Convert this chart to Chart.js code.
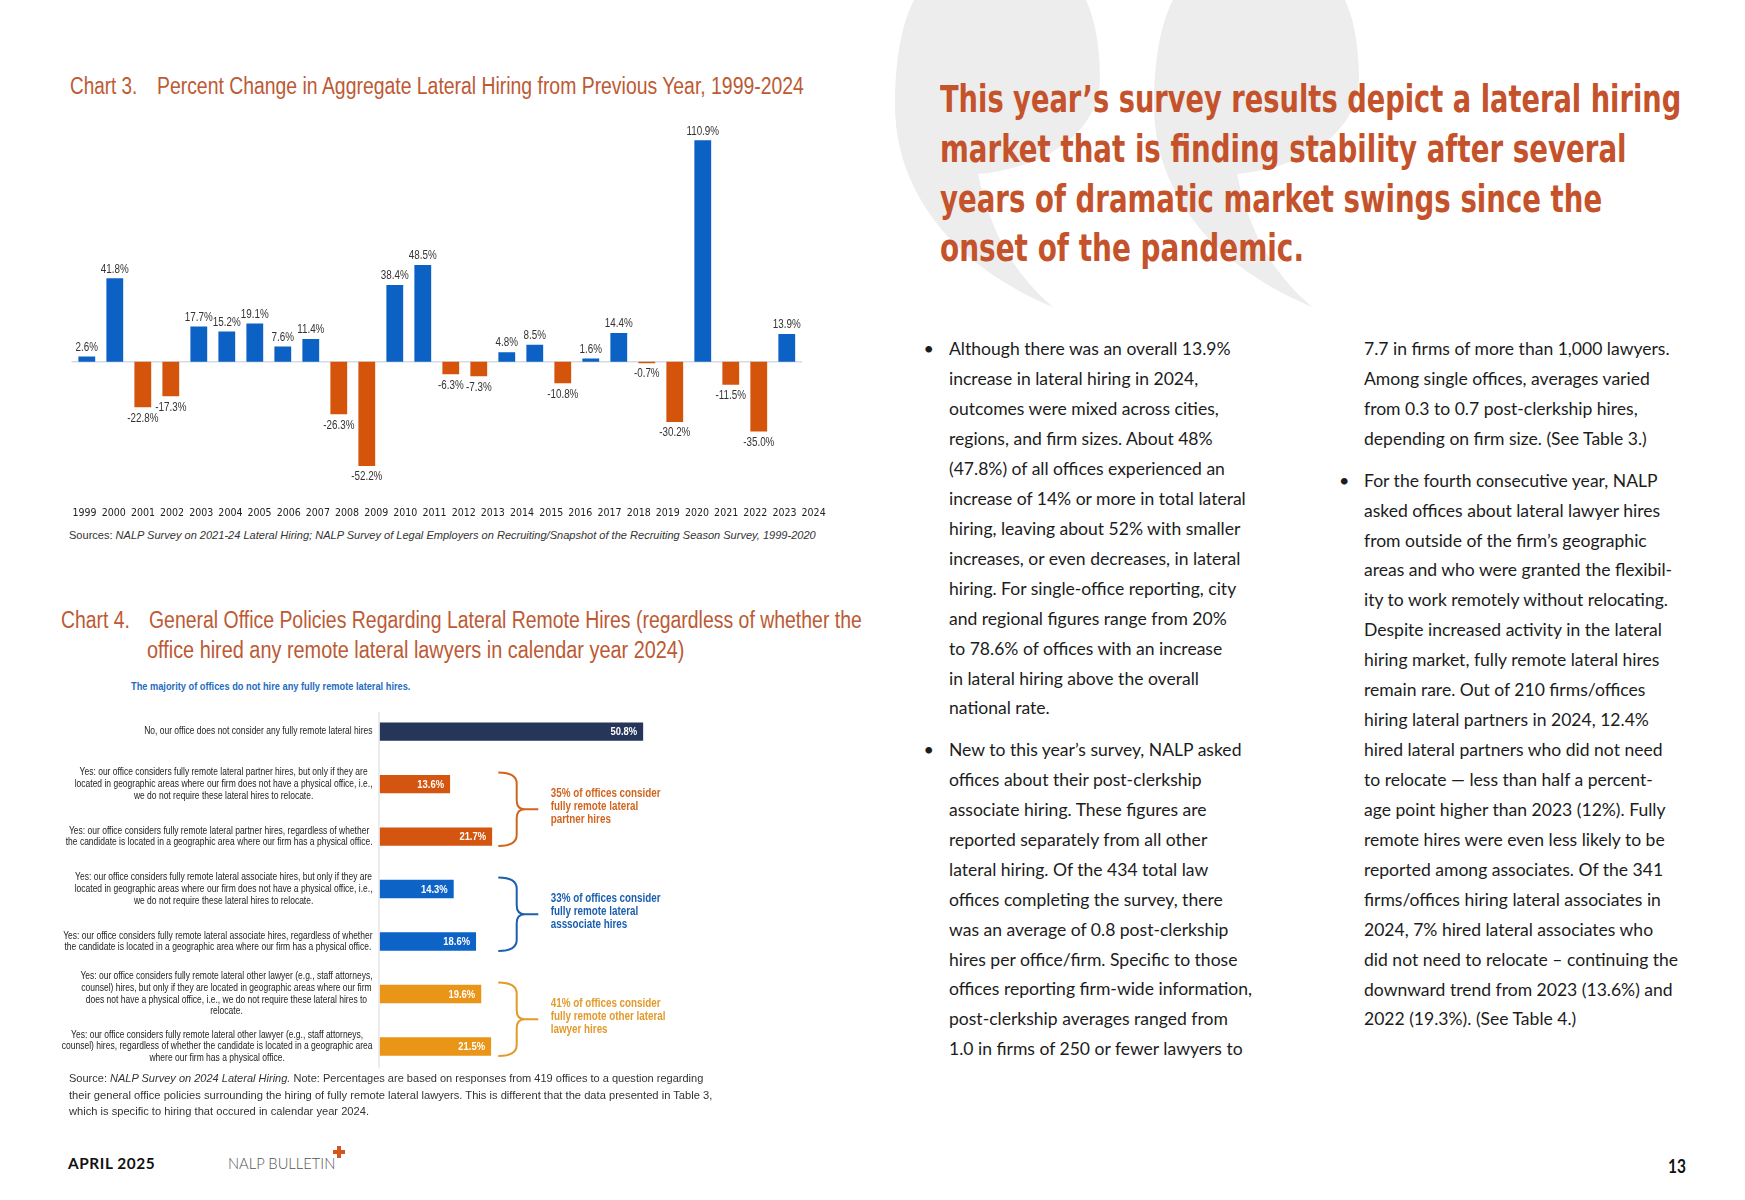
<!DOCTYPE html>
<html><head><meta charset="utf-8">
<script src="https://cdn.jsdelivr.net/npm/chart.js@4.4.1/dist/chart.umd.min.js"></script>
<style>
html,body{margin:0;padding:0;background:#fff;}
body{width:1745px;height:1200px;position:relative;overflow:hidden;font-family:Lato,"Open Sans",sans-serif;color:#1c1c1c;}
.abs{position:absolute;white-space:nowrap;}
.narrow{font-family:"Liberation Sans",Arial,sans-serif;}
.cond{font-family:"DejaVu Sans Condensed","DejaVu Sans",sans-serif;}
[data-w],[data-g]{transform-origin:0 50%;}
.title{color:#BC5A34;font-size:23.5px;line-height:26px;height:26px;}
.body{font-size:18px;line-height:24px;height:24px;color:#1c1c1c;}
.head{color:#C4532B;font-weight:bold;font-size:37px;line-height:44px;height:44px;}
canvas{position:absolute;}
</style>
</head>
<body>
<svg class="abs" style="left:0;top:0" width="1745" height="400">
  <path fill="#EDEDED" d="M 914 0 C 901 25 895 62 895 105 C 895 185 945 262 1053 307 C 1012 272 990 230 978 174 C 1045 168 1099 132 1100 80 C 1100 45 1095 20 1086 0 Z"/>
  <path fill="#EDEDED" transform="translate(259,0)" d="M 914 0 C 901 25 895 62 895 105 C 895 185 945 262 1053 307 C 1012 272 990 230 978 174 C 1045 168 1099 132 1100 80 C 1100 45 1095 20 1086 0 Z"/>
</svg>

<!-- Chart 3 -->
<div class="abs narrow title" style="left:70px;top:73px" data-w="67.3">Chart 3.</div>
<div class="abs narrow title" style="left:156.7px;top:73px" data-w="646.8">Percent Change in Aggregate Lateral Hiring from Previous Year, 1999-2024</div>
<canvas id="c3" width="850" height="424" style="left:0;top:100px;width:850px;height:424px"></canvas>
<div class="abs narrow" style="left:69px;top:528.3px;font-size:11.5px;line-height:14px;color:#333" data-w="746.7">Sources: <i>NALP Survey on 2021-24 Lateral Hiring; NALP Survey of Legal Employers on Recruiting/Snapshot of the Recruiting Season Survey, 1999-2020</i></div>

<!-- Chart 4 -->
<div class="abs narrow title" style="left:61.2px;top:606.9px" data-w="69">Chart 4.</div>
<div class="abs narrow title" style="left:148.6px;top:606.9px" data-w="712.8">General Office Policies Regarding Lateral Remote Hires (regardless of whether the</div>
<div class="abs narrow title" style="left:146.9px;top:636.9px" data-w="537.5">office hired any remote lateral lawyers in calendar year 2024)</div>
<div class="abs narrow" style="left:131.3px;top:680px;font-size:11px;line-height:13px;font-weight:bold;color:#1F6DBF" data-w="279.4">The majority of offices do not hire any fully remote lateral hires.</div>
<canvas id="c4" width="900" height="373" style="left:0;top:700px;width:900px;height:373px"></canvas>
<div class="abs narrow" style="left:69px;top:1071.4px;font-size:11.5px;line-height:14px;color:#333" data-w="634.3">Source: <i>NALP Survey on 2024 Lateral Hiring.</i> Note: Percentages are based on responses from 419 offices to a question regarding</div>
<div class="abs narrow" style="left:69px;top:1088.1px;font-size:11.5px;line-height:14px;color:#333" data-w="643.3">their general office policies surrounding the hiring of fully remote lateral lawyers. This is different that the data presented in Table 3,</div>
<div class="abs narrow" style="left:69px;top:1103.7px;font-size:11.5px;line-height:14px;color:#333" data-w="300">which is specific to hiring that occured in calendar year 2024.</div>

<!-- footer -->
<div class="abs" style="left:68.3px;top:1152.7px;font-size:16px;line-height:20px;font-weight:bold;color:#111;letter-spacing:0.6px" data-w="87.3">APRIL 2025</div>
<div class="abs" style="left:227.7px;top:1152.7px;font-size:15px;line-height:20px;font-weight:300;color:#555" data-w="107.3">NALP BULLETIN</div>
<div class="abs" style="left:337px;top:1145.5px;width:4px;height:12px;background:#D2561E"></div>
<div class="abs" style="left:333px;top:1149.5px;width:12px;height:4px;background:#D2561E"></div>
<div class="abs" style="left:1668px;top:1155px;font-size:19px;line-height:22px;font-weight:bold;color:#111" data-w="18">13</div>

<div id="textlayer"></div>

<script>
// ---------- data ----------
const years = ['1999','2000','2001','2002','2003','2004','2005','2006','2007','2008','2009','2010','2011','2012','2013','2014','2015','2016','2017','2018','2019','2020','2021','2022','2023','2024'];
const pctChange = [2.6,41.8,-22.8,-17.3,17.7,15.2,19.1,7.6,11.4,-26.3,-52.2,38.4,48.5,-6.3,-7.3,4.8,8.5,-10.8,1.6,14.4,-0.7,-30.2,110.9,-11.5,-35.0,13.9];

const policyLabels = [
  ['No, our office does not consider any fully remote lateral hires'],
  ['Yes: our office considers fully remote lateral partner hires, but only if they are','located in geographic areas where our firm does not have a physical office, i.e.,','we do not require these lateral hires to relocate.'],
  ['Yes: our office considers fully remote lateral partner hires, regardless of whether','the candidate is located in a geographic area where our firm has a physical office.'],
  ['Yes: our office considers fully remote lateral associate hires, but only if they are','located in geographic areas where our firm does not have a physical office, i.e.,','we do not require these lateral hires to relocate.'],
  ['Yes: our office considers fully remote lateral associate hires, regardless of whether','the candidate is located in a geographic area where our firm has a physical office.'],
  ['Yes: our office considers fully remote lateral other lawyer (e.g., staff attorneys,','counsel) hires, but only if they are located in geographic areas where our firm','does not have a physical office, i.e., we do not require these lateral hires to','relocate.'],
  ['Yes: our office considers fully remote lateral other lawyer (e.g., staff attorneys,','counsel) hires, regardless of whether the candidate is located in a geographic area','where our firm has a physical office.']
];
const policyValues = [50.8,13.6,21.7,14.3,18.6,19.6,21.5];
const groupRanges = [[1,2],[3,4],[5,6]];
const groupNotes = [
  ['35% of offices consider','fully remote lateral','partner hires'],
  ['33% of offices consider','fully remote lateral','asssociate hires'],
  ['41% of offices consider','fully remote other lateral','lawyer hires']
];

// ---------- body text ----------
const col1a = ['Although there was an overall 13.9%','increase in lateral hiring in 2024,','outcomes were mixed across cities,','regions, and firm sizes. About 48%','(47.8%) of all offices experienced an','increase of 14% or more in total lateral','hiring, leaving about 52% with smaller','increases, or even decreases, in lateral','hiring. For single-office reporting, city','and regional figures range from 20%','to 78.6% of offices with an increase','in lateral hiring above the overall','national rate.'];
const col1b = ['New to this year\u2019s survey, NALP asked','offices about their post-clerkship','associate hiring. These figures are','reported separately from all other','lateral hiring. Of the 434 total law','offices completing the survey, there','was an average of 0.8 post-clerkship','hires per office/firm. Specific to those','offices reporting firm-wide information,','post-clerkship averages ranged from','1.0 in firms of 250 or fewer lawyers to'];
const col2a = ['7.7 in firms of more than 1,000 lawyers.','Among single offices, averages varied','from 0.3 to 0.7 post-clerkship hires,','depending on firm size. (See Table 3.)'];
const col2b = ['For the fourth consecutive year, NALP','asked offices about lateral lawyer hires','from outside of the firm\u2019s geographic','areas and who were granted the flexibil-','ity to work remotely without relocating.','Despite increased activity in the lateral','hiring market, fully remote lateral hires','remain rare. Out of 210 firms/offices','hiring lateral partners in 2024, 12.4%','hired lateral partners who did not need','to relocate \u2014 less than half a percent-','age point higher than 2023 (12%). Fully','remote hires were even less likely to be','reported among associates. Of the 341','firms/offices hiring lateral associates in','2024, 7% hired lateral associates who','did not need to relocate \u2013 continuing the','downward trend from 2023 (13.6%) and','2022 (19.3%). (See Table 4.)'];
const headline = ['This year\u2019s survey results depict a lateral hiring','market that is finding stability after several','years of dramatic market swings since the','onset of the pandemic.'];
const headW = [741.2, 686.6, 662.2, 364];

const layer = document.getElementById('textlayer');
function addDiv(cls, text, left, cy, h, attrs){
  const d = document.createElement('div');
  d.className = 'abs ' + cls;
  d.style.left = left + 'px';
  d.style.top = (cy - h/2) + 'px';
  d.textContent = text;
  for (const k in (attrs||{})) d.setAttribute(k, attrs[k]);
  layer.appendChild(d);
  return d;
}
headline.forEach((t,i)=>addDiv('cond head', t, 940.4, [100.2,150.2,200.3,249.3][i], 44, {'data-w': headW[i]}));
const LH = 29.93;
function para(lines, left, cy0, bulletX){
  lines.forEach((t,i)=>{
    const attrs = (t === col1a[0]) ? {'data-w':281.6,'data-g':'body'} : {'data-g':'body'};
    addDiv('body', t, left, cy0 + i*LH, 24, attrs);
  });
  if (bulletX) addDiv('body', '\u2022', bulletX, cy0, 24, {});
}
para(col1a, 949.3, 348.3, 923.5);
para(col1b, 949.3, 749.0, 923.5);
para(col2a, 1364.4, 348.3, null);
para(col2b, 1364.4, 479.7, 1339);

function fitAll(){
  const gs = {};
  document.querySelectorAll('[data-w]').forEach(el=>{
    const s = parseFloat(el.dataset.w) / el.getBoundingClientRect().width;
    el.style.transform = 'scaleX(' + s + ')';
    if (el.dataset.g) gs[el.dataset.g] = s;
  });
  document.querySelectorAll('[data-g]').forEach(el=>{
    if (!el.dataset.w && gs[el.dataset.g]) el.style.transform = 'scaleX(' + gs[el.dataset.g] + ')';
  });
}
fitAll();

// ---------- helpers ----------
const SANS = '"Liberation Sans",Arial,sans-serif';
const SQ = 0.82; // horizontal squeeze to emulate a narrow face
function narrowText(ctx, text, x, y, align){
  const w = ctx.measureText(text).width * SQ;
  let x0 = x;
  if (align === 'center') x0 = x - w/2;
  else if (align === 'right') x0 = x - w;
  ctx.save();
  ctx.translate(x0, y);
  ctx.scale(SQ, 1);
  ctx.textAlign = 'left';
  ctx.fillText(text, 0, 0);
  ctx.restore();
}

// ---------- Chart 3 ----------
const BLUE3 = '#0B61C4', ORANGE3 = '#D4540C';

const zeroLine = {
  id:'zeroLine',
  beforeDatasetsDraw(chart){
    const {ctx, scales:{xb, y}} = chart;
    const yy = y.getPixelForValue(0);
    ctx.save();
    ctx.strokeStyle = '#D6DCE4';
    ctx.lineWidth = 1.5;
    ctx.beginPath();
    ctx.moveTo(xb.getPixelForValue(-0.55), yy);
    ctx.lineTo(xb.getPixelForValue(25.55), yy);
    ctx.stroke();
    ctx.restore();
  }
};
const valueLabels3 = {
  id:'valueLabels3',
  afterDatasetsDraw(chart){
    const {ctx} = chart;
    const meta = chart.getDatasetMeta(0);
    ctx.save();
    ctx.font = '12px ' + SANS;
    ctx.fillStyle = '#333';
    meta.data.forEach((el,i)=>{
      const v = pctChange[i];
      const t = v.toFixed(1) + '%';
      if (v >= 0){ ctx.textBaseline = 'bottom'; narrowText(ctx, t, el.x, el.y - 3, 'center'); }
      else { ctx.textBaseline = 'top'; narrowText(ctx, t, el.x, el.y + 5, 'center'); }
    });
    ctx.restore();
  }
};

new Chart(document.getElementById('c3'), {
  type:'bar',
  data:{
    labels: years,
    datasets:[{
      data: pctChange.map((v,i)=>({x:i, y:v})),
      xAxisID:'xb', yAxisID:'y',
      backgroundColor: pctChange.map(v => v >= 0 ? BLUE3 : ORANGE3),
      categoryPercentage:1, barPercentage:0.6, borderWidth:0
    }]
  },
  options:{
    responsive:false, animation:false, devicePixelRatio:1,
    layout:{padding:{left:70, right:21.8, top:12.15, bottom:0.7}},
    plugins:{legend:{display:false}, tooltip:{enabled:false}},
    scales:{
      xb:{type:'linear', display:false, offset:false, min:-0.6, max:26.48, grid:{offset:false}},
      x:{type:'category', labels: years, position:'bottom', offset:true,
         grid:{display:false, drawTicks:false}, border:{display:false},
         ticks:{autoSkip:false, maxRotation:0, minRotation:0, padding:4, color:'#222', font:{family:'"DejaVu Sans Condensed","Liberation Sans",sans-serif', size:10.5}}},
      y:{display:false, min:-70.6, max:125}
    }
  },
  plugins:[zeroLine, valueLabels3]
});

// ---------- Chart 4 ----------
const barColors4 = ['#26355A','#D4550F','#D4550F','#0D63C6','#0D63C6','#E99518','#E99518'];
const groupColors = ['#D0651F','#1A5FAF','#E39A2D'];

const policyDecor = {
  id:'policyDecor',
  afterDatasetsDraw(chart){
    const {ctx, chartArea, scales:{x, y}} = chart;
    const meta = chart.getDatasetMeta(0);
    ctx.save();
    // axis line
    ctx.strokeStyle = '#D9D9D9'; ctx.lineWidth = 1;
    ctx.beginPath();
    ctx.moveTo(x.getPixelForValue(0) - 0.5, chartArea.top + 6.6);
    ctx.lineTo(x.getPixelForValue(0) - 0.5, chartArea.bottom - 4.3);
    ctx.stroke();
    // category labels: lines centred within a right-aligned block
    ctx.font = '10px ' + SANS;
    const ref = ctx.measureText('Yes: our office considers fully remote lateral associate hires, regardless of whether').width * SQ;
    const fs = 10 * 309.4 / ref;
    ctx.font = fs + 'px ' + SANS;
    ctx.fillStyle = '#222'; ctx.textBaseline = 'middle';
    const right = x.getPixelForValue(0) - 7;
    const lh = 11.7;
    policyLabels.forEach((lines,i)=>{
      const bw = Math.max(...lines.map(l => ctx.measureText(l).width * SQ));
      const cx = right - bw/2;
      const yc = y.getPixelForValue(i);
      lines.forEach((l,k)=> narrowText(ctx, l, cx, yc - (lines.length-1)*lh/2 + k*lh, 'center'));
    });
    // values inside bars
    ctx.font = 'bold 11.5px ' + SANS;
    ctx.fillStyle = '#fff';
    meta.data.forEach((el,i)=> narrowText(ctx, policyValues[i].toFixed(1) + '%', el.x - 6, el.y + 0.5, 'right'));
    // braces and notes
    groupRanges.forEach((r,g)=>{
      const yTop = y.getPixelForValue(r[0]) - 11.5;
      const yBot = y.getPixelForValue(r[1]) + 9.5;
      const yMid = (yTop + yBot)/2;
      const xL = 498.3, xS = 516.7, xP = 538.3;
      ctx.strokeStyle = groupColors[g]; ctx.lineWidth = 2;
      ctx.beginPath();
      ctx.moveTo(xL, yTop);
      ctx.quadraticCurveTo(xS, yTop, xS, yTop + 11);
      ctx.lineTo(xS, yMid - 9);
      ctx.quadraticCurveTo(xS, yMid, xS + 8, yMid);
      ctx.lineTo(xP, yMid);
      ctx.moveTo(xS + 8, yMid);
      ctx.quadraticCurveTo(xS, yMid, xS, yMid + 9);
      ctx.lineTo(xS, yBot - 11);
      ctx.quadraticCurveTo(xS, yBot, xL, yBot);
      ctx.stroke();
      ctx.font = 'bold 12px ' + SANS;
      ctx.fillStyle = groupColors[g];
      const notes = groupNotes[g];
      notes.forEach((t,k)=> narrowText(ctx, t, 550.7, yMid - 3 + (k - (notes.length-1)/2)*13, 'left'));
    });
    ctx.restore();
  }
};

new Chart(document.getElementById('c4'), {
  type:'bar',
  data:{
    labels: policyLabels,
    datasets:[{ data: policyValues, backgroundColor: barColors4, categoryPercentage:1, barPercentage:0.35, borderWidth:0 }]
  },
  options:{
    indexAxis:'y', responsive:false, animation:false, devicePixelRatio:1,
    layout:{padding:{left:379.5, right:1.5, top:5.4, bottom:0.3}},
    plugins:{legend:{display:false}, tooltip:{enabled:false}},
    scales:{
      x:{type:'linear', display:false, min:0, max:100},
      y:{type:'category', display:false}
    }
  },
  plugins:[policyDecor]
});
</script>
</body></html>
